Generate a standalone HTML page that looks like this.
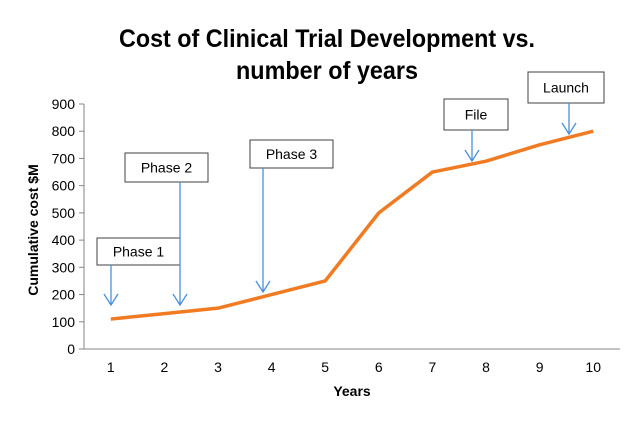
<!DOCTYPE html>
<html><head><meta charset="utf-8"><style>
body{margin:0;background:#fff;}
svg{display:block;font-family:"Liberation Sans",Arial,sans-serif;}
</style></head><body>
<svg width="640" height="422" viewBox="0 0 640 422">
<rect width="640" height="422" fill="#fff"/>
<text x="327" y="47" text-anchor="middle" font-size="25" font-weight="bold" textLength="416" lengthAdjust="spacingAndGlyphs">Cost of Clinical Trial Development vs.</text>
<text x="327" y="79" text-anchor="middle" font-size="25" font-weight="bold" textLength="182" lengthAdjust="spacingAndGlyphs">number of years</text>
<g id="axes"></g>
<g id="plot"></g>
<g id="notes"></g>
<text x="352" y="396" text-anchor="middle" font-size="14" font-weight="bold">Years</text>
<text transform="translate(38,230) rotate(-90)" text-anchor="middle" font-size="14" font-weight="bold">Cumulative cost $M</text>
</svg>
<script>
const categories=[1,2,3,4,5,6,7,8,9,10];
const costs=[110,130,150,200,250,500,650,690,750,800];
const yTicks=[0,100,200,300,400,500,600,700,800,900];
const NS="http://www.w3.org/2000/svg";
const L=84,R=620,B=349,T=104,YMAX=900;
const bw=(R-L)/categories.length;
const xs=i=>L+bw*(i+0.5);
const ys=v=>B-(B-T)*v/YMAX;
function mk(tag,at,parent){const e=document.createElementNS(NS,tag);for(const k in at)e.setAttribute(k,at[k]);document.getElementById(parent).appendChild(e);return e;}
const ax=mk('line',{x1:L,y1:T,x2:L,y2:B,stroke:'#868686','stroke-width':1},'axes');


const bx=mk('line',{x1:L,y1:B,x2:R,y2:B,stroke:'#868686','stroke-width':1},'axes');


yTicks.forEach(v=>{
 const tk=mk('line',{x1:L-5,y1:ys(v),x2:L,y2:ys(v),stroke:'#868686'},'axes');
 
 
 const t=mk('text',{x:L-9,y:ys(v)+5,'text-anchor':'end','font-size':14},'axes');
 t.textContent=v;
 
 
});
categories.forEach((c,i)=>{
 const t=mk('text',{x:xs(i),y:372,'text-anchor':'middle','font-size':14},'axes');
 t.textContent=c;
 
 
});
const pl=mk('polyline',{points:costs.map((v,i)=>xs(i)+','+ys(v)).join(' '),fill:'none',stroke:'#f07b22','stroke-width':3.5,'stroke-linejoin':'round'},'plot');


const notes=[
 {label:'Phase 1',bx:97,by:238,bw:83,bh:27,ax:111,ay1:265,ay2:305},
 {label:'Phase 2',bx:125,by:153,bw:83,bh:29,ax:180,ay1:182,ay2:305},
 {label:'Phase 3',bx:250,by:140,bw:83,bh:28,ax:263,ay1:168,ay2:292},
 {label:'File',bx:444,by:99,bw:64,bh:31,ax:472,ay1:130,ay2:161},
 {label:'Launch',bx:528,by:72,bw:76,bh:31,ax:569,ay1:103,ay2:134}
];
notes.forEach(n=>{
 const r=mk('rect',{x:n.bx,y:n.by,width:n.bw,height:n.bh,fill:'#fff',stroke:'#404040','stroke-width':1},'notes');
 
 
 const t=mk('text',{x:n.bx+n.bw/2,y:n.by+n.bh/2+5,'text-anchor':'middle','font-size':14},'notes');
 t.textContent=n.label;
 
 
 const a=mk('path',{d:`M${n.ax},${n.ay1}V${n.ay2}M${n.ax-7},${n.ay2-11}L${n.ax},${n.ay2}L${n.ax+7},${n.ay2-11}`,fill:'none',stroke:'#4a90d9','stroke-width':1.3},'notes');
 
 
});
</script>
</body></html>
